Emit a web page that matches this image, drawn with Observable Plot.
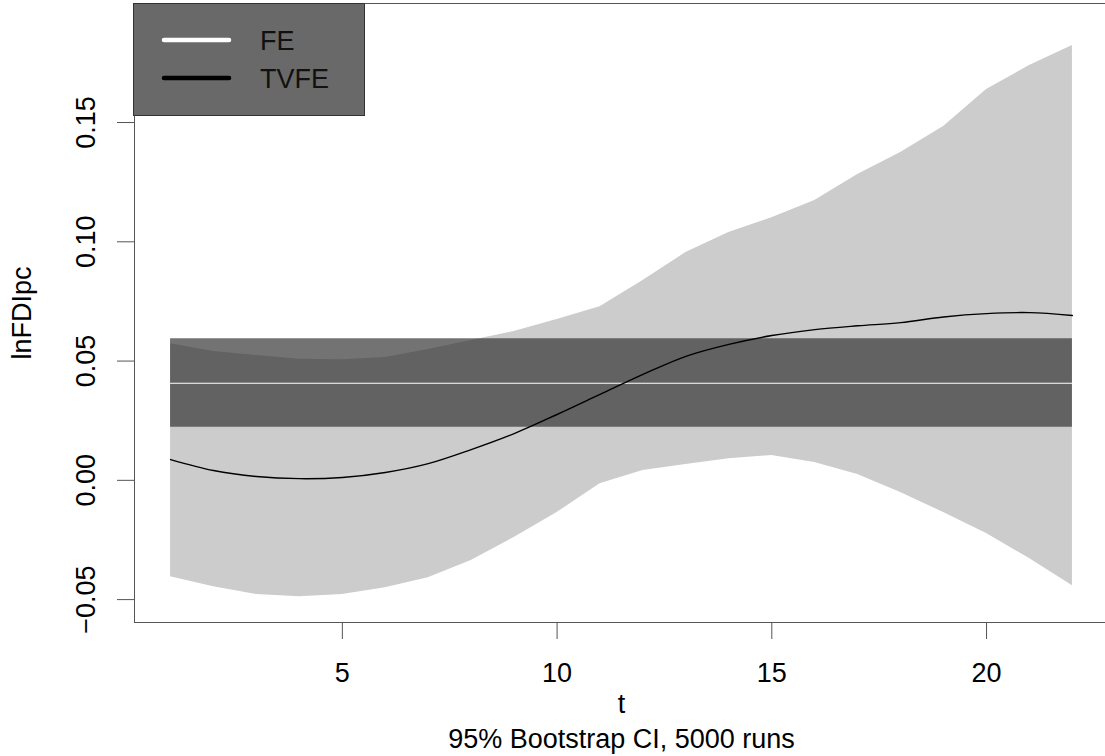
<!DOCTYPE html>
<html>
<head>
<meta charset="utf-8">
<script src="https://cdn.jsdelivr.net/npm/d3@7"></script>
<script src="https://cdn.jsdelivr.net/npm/@observablehq/plot@0.6"></script>
<style>
  html, body { margin: 0; padding: 0; background: #fff; }
  #chart { width: 1105px; height: 756px; overflow: hidden; }
  #chart svg { display: block; }
</style>
</head>
<body>
<div id="chart"></div>
<script>
// ---- data ----
const t = [1, 2, 3, 4, 5, 6, 7, 8, 9, 10, 11, 12, 13, 14, 15, 16, 17, 18, 19, 20, 21, 22];
const tvfe = [0.0087, 0.0041, 0.0016, 0.0007, 0.0012, 0.0033, 0.0070, 0.0129, 0.0196, 0.0276, 0.0360,
              0.0444, 0.0520, 0.0570, 0.0607, 0.0632, 0.0648, 0.0661, 0.0685, 0.0699, 0.0703, 0.0691];
const ciUpper = [0.0573, 0.0540, 0.0523, 0.0508, 0.0506, 0.0515, 0.0548, 0.0586, 0.0624, 0.0674, 0.0728,
                 0.0838, 0.0955, 0.1039, 0.1101, 0.1173, 0.1282, 0.1374, 0.1483, 0.1638, 0.1739, 0.1823];
const ciLower = [-0.0404, -0.0446, -0.0479, -0.0488, -0.0479, -0.0450, -0.0408, -0.0336, -0.0240, -0.0135, -0.0014,
                 0.0041, 0.0066, 0.0091, 0.0104, 0.0075, 0.0024, -0.0051, -0.0135, -0.0223, -0.0328, -0.0442];
const feEstimate = 0.0407;
const feLower = 0.0223;
const feUpper = 0.0594;
const xTicks = [5, 10, 15, 20];
const yTicks = [-0.05, 0.00, 0.05, 0.10, 0.15];
const seriesNames = ["FE", "TVFE"];
const xLabel = "t";
const yLabel = "lnFDIpc";
const caption = "95% Bootstrap CI, 5000 runs";

const rows = t.map((d, i) => ({
  t: d, tvfe: tvfe[i], lo: ciLower[i], hi: ciUpper[i],
  feEst: feEstimate, feLo: feLower, feHi: feUpper
}));

const FONT = "'Liberation Sans', Arial, Helvetica, sans-serif";
const FS = 27;
const fmt = d3.format(".2f");

const chart = Plot.plot({
  width: 1105,
  height: 756,
  marginLeft: 134,
  marginRight: -3,
  marginTop: 3,
  marginBottom: 134,
  style: { fontFamily: FONT, background: "white", overflow: "hidden", color: "black" },
  x: { domain: [0.16, 22.84] },
  y: { domain: [-0.0596, 0.1999] },
  marks: [
    Plot.areaY(rows, { x: "t", y1: "lo", y2: "hi", fill: "#cccccc" }),
    Plot.areaY(rows, { x: "t", y1: "feLo", y2: "feHi", fill: "rgb(45,45,45)", fillOpacity: 0.667 }),
    Plot.lineY(rows, { x: "t", y: "feEst", stroke: "white", strokeWidth: 1.2 }),
    Plot.lineY(rows, { x: "t", y: "tvfe", stroke: "black", strokeWidth: 1.4, curve: "catmull-rom" }),
    Plot.frame({ stroke: "#555" }),
    Plot.axisX(xTicks, { tickSize: 17, tickPadding: 23, fontSize: FS, stroke: "#555", fill: "black", label: null }),
    Plot.axisY(yTicks, { tickSize: 17, tickFormat: () => "", label: null, stroke: "#555" }),
    Plot.text(yTicks, {
      y: d => d, text: d => fmt(d), frameAnchor: "left", dx: -48,
      rotate: -90, textAnchor: "middle", lineAnchor: "middle", fontSize: FS, fill: "black"
    }),
    Plot.text([yLabel], {
      text: d => d, frameAnchor: "left", dx: -112, rotate: -90,
      textAnchor: "middle", lineAnchor: "middle", fontSize: FS, fill: "black"
    }),
    Plot.text([xLabel], {
      text: d => d, frameAnchor: "bottom", dy: 82, lineAnchor: "middle", fontSize: FS, fill: "black"
    }),
    Plot.text([caption], {
      text: d => d, frameAnchor: "bottom", dy: 117, lineAnchor: "middle", fontSize: FS, fill: "black"
    })
  ]
});

// legend box (top-left, inside the plot frame)
const svg = d3.select(chart);
const lg = svg.append("g").attr("font-family", FONT).attr("text-anchor", "start");
lg.append("rect").attr("x", 133.5).attr("y", 3.5).attr("width", 231).attr("height", 112)
  .attr("fill", "#696969").attr("stroke", "#333").attr("stroke-width", 1);
const legendColors = ["white", "black"];
seriesNames.forEach((name, i) => {
  const cy = 40 + i * 38;
  lg.append("line").attr("x1", 164).attr("x2", 229).attr("y1", cy).attr("y2", cy)
    .attr("stroke", legendColors[i]).attr("stroke-width", 4.5).attr("stroke-linecap", "round");
  lg.append("text").attr("x", 260).attr("y", cy + 9.8).attr("font-size", FS)
    .attr("text-anchor", "start").attr("fill", "#111").text(name);
});

document.getElementById("chart").appendChild(chart);
</script>
</body>
</html>
